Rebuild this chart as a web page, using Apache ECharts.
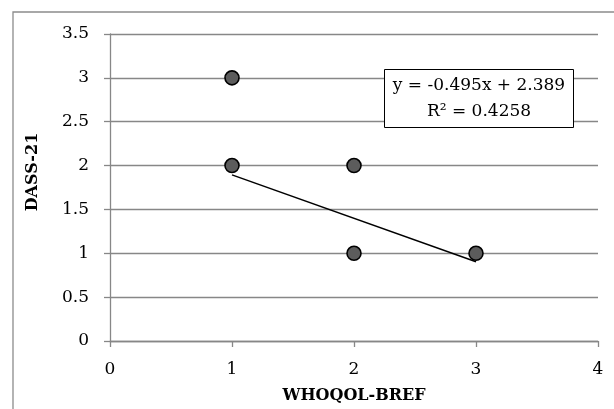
<!DOCTYPE html>
<html>
<head>
<meta charset="utf-8">
<script src="https://cdn.jsdelivr.net/npm/echarts@6/dist/echarts.min.js"></script>
<style>
html,body{margin:0;padding:0;background:#fff;}
#chart{width:614px;height:409px;}
</style>
</head>
<body>
<div id="chart"></div>
<script>
var xValues = [1, 1, 2, 2, 3];
var yValues = [3, 2, 2, 1, 1];
var trendX = [1, 3];
var trendY = [1.894, 0.904];
var equationText = 'y = -0.495x + 2.389';
var r2Text = 'R² = 0.4258';
var xTitle = 'WHOQOL-BREF';
var yTitle = 'DASS-21';

var points = xValues.map(function (x, i) { return [x, yValues[i]]; });
var trend = trendX.map(function (x, i) { return [x, trendY[i]]; });

var FONT = '"DejaVu Serif", serif';
var chart = echarts.init(document.getElementById('chart'));
chart.setOption({
  animation: false,
  backgroundColor: '#fff',
  grid: { left: 110, right: 16, top: 34, bottom: 67, containLabel: false },
  xAxis: {
    type: 'value', min: 0, max: 4, interval: 1,
    name: xTitle, nameLocation: 'middle', nameGap: 47,
    nameTextStyle: { fontFamily: FONT, fontWeight: 'bold', fontSize: 16, color: '#000' },
    axisLine: { show: true, onZero: false, lineStyle: { color: '#878787', width: 1.3 } },
    axisTick: { show: true, length: 6, lineStyle: { color: '#878787', width: 1.3 } },
    axisLabel: { fontFamily: FONT, fontSize: 17, color: '#000', margin: 20 },
    splitLine: { show: false }
  },
  yAxis: {
    type: 'value', min: 0, max: 3.5, interval: 0.5,
    name: '', 
    axisLine: { show: true, lineStyle: { color: '#878787', width: 1.3 } },
    axisTick: { show: true, length: 6, lineStyle: { color: '#878787', width: 1.3 } },
    axisLabel: { fontFamily: FONT, fontSize: 17, color: '#000', margin: 21 },
    splitLine: { show: true, lineStyle: { color: '#878787', width: 1.3 } }
  },
  series: [
    {
      type: 'line', data: trend, symbol: 'none', z: 3,
      lineStyle: { color: '#000', width: 1.5 }
    },
    {
      type: 'scatter', data: points, symbol: 'circle', symbolSize: 14, z: 4,
      itemStyle: { color: '#5c5c5c', borderColor: '#000', borderWidth: 1.6, opacity: 1 }
    }
  ],
  graphic: [
    {
      type: 'rect', silent: true, z: -1,
      shape: { x: 13, y: 12, width: 620, height: 420 },
      style: { fill: 'none', stroke: '#8c8c8c', lineWidth: 1.3 }
    },
    {
      type: 'text', z: 11, x: 33, y: 172, rotation: Math.PI / 2,
      style: {
        x: 0, y: 0, text: yTitle, align: 'center', verticalAlign: 'middle',
        font: 'bold 16px ' + FONT, fill: '#000'
      }
    },
    {
      type: 'rect', z: 10,
      shape: { x: 384.5, y: 69.5, width: 189, height: 58 },
      style: { fill: '#fff', stroke: '#000', lineWidth: 1 }
    },
    {
      type: 'text', z: 11,
      style: {
        x: 479, y: 73,
        text: equationText + '\n' + r2Text,
        align: 'center', verticalAlign: 'top',
        font: '17px ' + FONT, fill: '#000', lineHeight: 26
      }
    }
  ]
});
</script>
</body>
</html>
